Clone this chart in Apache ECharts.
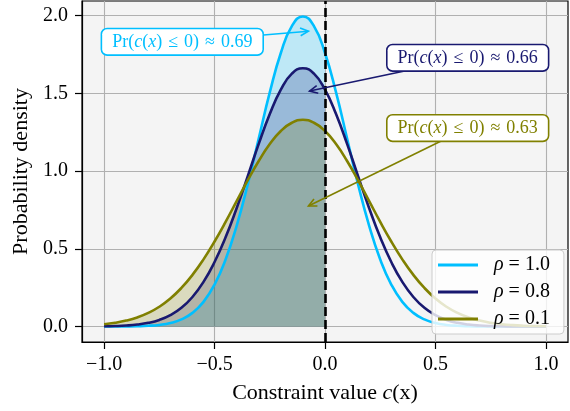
<!DOCTYPE html>
<html><head><meta charset="utf-8">
<script src="https://cdn.jsdelivr.net/npm/echarts@6/dist/echarts.min.js"></script>
<style>html,body{margin:0;padding:0;background:#fff}#c{width:570px;height:411px}</style>
</head><body><div id="c"></div>
<script>
// x grid (constraint value)
const xs = [-1.0,-0.95,-0.9,-0.85,-0.8,-0.75,-0.7,-0.65,-0.6,-0.55,-0.5,-0.45,-0.4,-0.35,-0.3,-0.25,-0.2,-0.15,-0.1,-0.05,0.0,
            0.05,0.1,0.15,0.2,0.25,0.3,0.35,0.4,0.45,0.5,0.55,0.6,0.65,0.7,0.75,0.8,0.85,0.9,0.95,1.0];
const rho10 = [0.0001,0.0002,0.0007,0.0018,0.0044,0.0102,0.0222,0.0455,0.0876,0.1587,0.270,0.431,0.648,0.913,1.210,1.506,1.760,1.933,1.995,1.933,1.760,
               1.506,1.210,0.913,0.648,0.431,0.270,0.1587,0.0876,0.0455,0.0222,0.0102,0.0044,0.0018,0.0007,0.0002,0.0001,0,0,0,0];
const rho08 = [0.0015,0.0031,0.0064,0.0126,0.0236,0.0425,0.0730,0.120,0.190,0.287,0.415,0.574,0.761,0.966,1.175,1.367,1.524,1.627,1.662,1.627,1.524,
               1.367,1.175,0.966,0.761,0.574,0.415,0.287,0.190,0.120,0.0730,0.0425,0.0236,0.0126,0.0064,0.0031,0.0015,0.0007,0.0003,0.0001,0];
const rho01 = [0.0148,0.0240,0.0380,0.0584,0.0874,0.127,0.180,0.248,0.332,0.432,0.547,0.673,0.807,0.940,1.065,1.174,1.258,1.311,1.330,1.311,1.258,
               1.174,1.065,0.940,0.807,0.673,0.547,0.432,0.332,0.248,0.180,0.127,0.0874,0.0584,0.0380,0.0240,0.0148,0.0088,0.0051,0.0029,0.0016];
const seriesNames = ['ρ = 1.0','ρ = 0.8','ρ = 0.1'];
const colors = ['#00bfff','#191970','#808000'];
const probs = ['0.69','0.66','0.63'];
const xTicks = [-1.0,-0.5,0.0,0.5,1.0];
const yTicks = [0.0,0.5,1.0,1.5,2.0];
// annotation anchors (data coords): text centre and arrow tip
const annText = [[-0.646,1.832],[0.646,1.729],[0.646,1.277]];
const annTip  = [[-0.075,1.90],[-0.07,1.515],[-0.075,0.775]];

const FONT = '"Liberation Serif","DejaVu Serif",serif';
const allY = [rho10, rho08, rho01];
const pairs = ys => xs.map((x,i)=>[x, ys[i]]);
const fillPairs = ys => xs.map((x,i)=>[x, ys[i]]).filter(p=>p[0] <= 0.0001);
const fmt = v => (Math.abs(v)<1e-9?'0.0':v.toFixed(1)).replace('-', '−');

const series = [];
allY.forEach((ys,k)=>{
  series.push({type:'line', name:'fill'+k, data:fillPairs(ys), smooth:true, symbol:'none',
    lineStyle:{width:0}, areaStyle:{color:colors[k], opacity:0.22}, silent:true, z:1});
});
allY.forEach((ys,k)=>{
  series.push({type:'line', name:seriesNames[k], data:pairs(ys), smooth:true, symbol:'none',
    lineStyle:{width:2.6, color:colors[k]}, itemStyle:{color:colors[k]}, z:3,
    markLine: k===0 ? {silent:true, symbol:'none', label:{show:false},
      lineStyle:{color:'#000', type:[9,4], width:2.6}, data:[{xAxis:0}]} : undefined});
});

const chart = echarts.init(document.getElementById('c'), null, {renderer:'canvas'});
chart.setOption({
  animation:false,
  grid:{left:82, right:2, top:1, bottom:69, show:true, backgroundColor:'#f4f4f4', borderColor:'#000', borderWidth:1.2},
  xAxis:{type:'value', min:-1.1, max:1.1,
    name:'Constraint value {i|c}(x)', nameLocation:'middle', nameGap:40,
    nameTextStyle:{fontFamily:FONT, fontSize:22, color:'#000', rich:{i:{fontFamily:FONT, fontStyle:'italic', fontSize:22, color:'#000'}}},
    axisLine:{show:true, onZero:false, lineStyle:{color:'#000', width:1.2}},
    axisTick:{show:true, length:7, lineStyle:{color:'#000', width:1.2}, customValues:xTicks},
    axisLabel:{customValues:xTicks, formatter:fmt, fontFamily:FONT, fontSize:20, color:'#000', margin:13},
    splitLine:{show:true, lineStyle:{color:'#b0b0b0', width:1.1}}},
  yAxis:{type:'value', min:-0.0997, max:2.0944,
    name:'Probability density', nameLocation:'middle', nameGap:48, nameRotate:90,
    nameTextStyle:{fontFamily:FONT, fontSize:22, color:'#000'},
    axisLine:{show:true, onZero:false, lineStyle:{color:'#000', width:1.2}},
    axisTick:{show:true, length:7, lineStyle:{color:'#000', width:1.2}, customValues:yTicks},
    axisLabel:{customValues:yTicks, formatter:fmt, fontFamily:FONT, fontSize:20, color:'#000', margin:14},
    splitLine:{show:true, lineStyle:{color:'#b0b0b0', width:1.1}}},
  legend:{data:seriesNames.map(n=>({name:n, icon:'rect'})), orient:'vertical', left:432, top:250, itemWidth:40, itemHeight:3, itemGap:7,
    padding:[5,14,5,6], backgroundColor:'rgba(255,255,255,0.8)', borderColor:'#cccccc', borderWidth:1, borderRadius:4,
    formatter: n => '{i|ρ} = ' + n.split('= ')[1],
    textStyle:{fontFamily:FONT, fontSize:20, color:'#000', padding:[0,0,0,11],
      rich:{i:{fontFamily:FONT, fontStyle:'italic', fontSize:20, color:'#000'}}}},
  series: series
});

// annotations
const gfx = [];
annText.forEach((tp,k)=>{
  const c = chart.convertToPixel({gridIndex:0}, tp);
  const t = chart.convertToPixel({gridIndex:0}, annTip[k]);
  const ang = Math.atan2(t[1]-c[1], t[0]-c[0]);
  const L = 9, a = 0.45;
  const p1 = [t[0]-L*Math.cos(ang-a), t[1]-L*Math.sin(ang-a)];
  const p2 = [t[0]-L*Math.cos(ang+a), t[1]-L*Math.sin(ang+a)];
  gfx.push({type:'line', z:50, shape:{x1:c[0],y1:c[1],x2:t[0],y2:t[1]}, style:{stroke:colors[k], lineWidth:1.6}});
  gfx.push({type:'polyline', z:50, shape:{points:[p1,t,p2]}, style:{stroke:colors[k], lineWidth:1.6, fill:null}});
  gfx.push({type:'text', z:60, x:c[0], y:c[1], style:{
    text:'{n|Pr(}{i|c}{n|(}{i|x}{n|)\u2004≤\u20040)\u2004≈\u2004'+probs[k]+'}',
    align:'center', verticalAlign:'middle',
    backgroundColor:'#fff', borderColor:colors[k], borderWidth:1.6, borderRadius:5, padding:[4,10,3,10],
    rich:{n:{fontFamily:FONT, fontSize:18, fill:colors[k], color:colors[k]},
          i:{fontFamily:FONT, fontSize:18, fontStyle:'italic', fill:colors[k], color:colors[k]}}}});
});
chart.setOption({graphic:gfx});
</script></body></html>
